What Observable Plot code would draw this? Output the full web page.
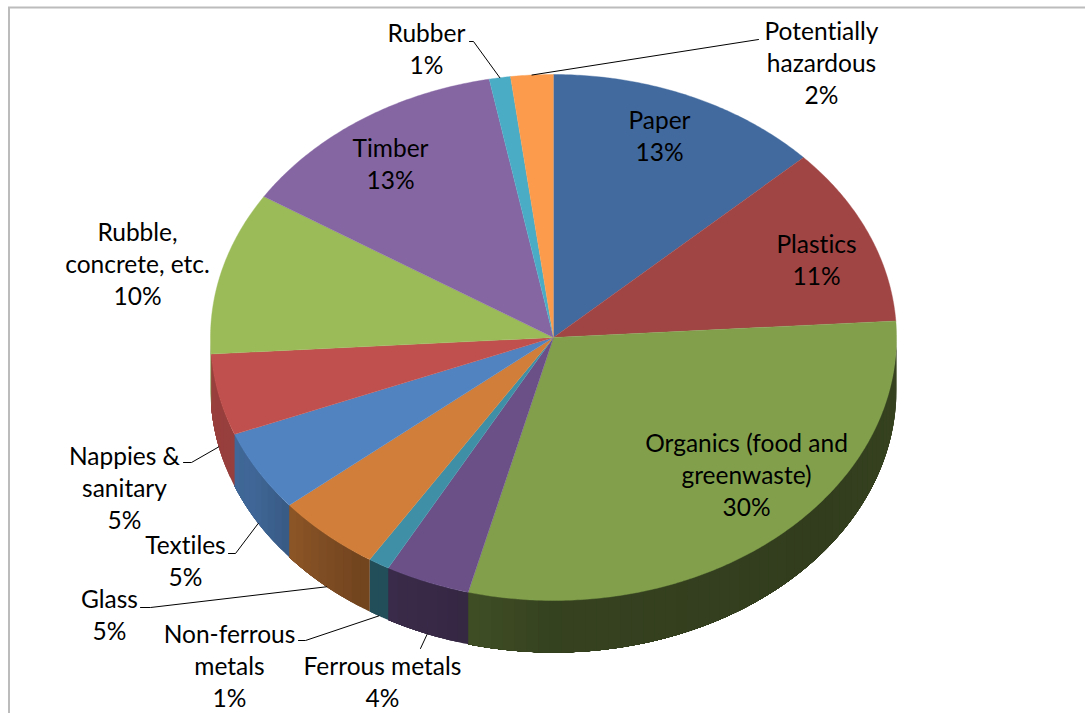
<!DOCTYPE html>
<html>
<head>
<meta charset="utf-8">
<script src="https://cdn.jsdelivr.net/npm/d3@7"></script>
<script src="https://cdn.jsdelivr.net/npm/@observablehq/plot@0.6"></script>
<style>
  html, body { margin: 0; padding: 0; background: #fff; }
  svg { display: block; }
  svg text { font-variant-ligatures: none; }
</style>
</head>
<body>
<div id="chart"></div>
<script>
// Waste composition, clockwise from twelve o'clock.
const materials = ["Paper", "Plastics", "Organics (food and\ngreenwaste)", "Ferrous metals", "Non-ferrous\nmetals", "Glass", "Textiles", "Nappies &\nsanitary", "Rubble,\nconcrete, etc.", "Timber", "Rubber", "Potentially\nhazardous"];
const shares = [13, 11, 30, 4, 1, 5, 5, 5, 10, 13, 1, 2];
const sliceColors = ["#426a9e", "#a04544", "#82a04c", "#6b5088", "#3f90a6", "#d07e39", "#5183c0", "#c0504d", "#9bbb59", "#8566a3", "#4bacc6", "#fb9b4b"];

// Label centres, one per material.
const labelX = [659, 816, 746, 382, 229, 109, 185, 124, 137, 390, 426, 821];
const labelY = [134, 258, 473, 680, 664, 613, 559, 486, 262, 162, 47, 61];

// Leader elbows; slices with inside labels have none.
const leaderElbows = [null, null, null, [[420, 648]], [[298, 640], [305, 640]], [[140, 607], [150, 607]], [[228, 553], [235, 553]], [[183, 462], [191, 462]], null, null, [[469, 41], [473, 41]], [[758, 39]]];

const width = 1085, height = 713;
const cx = 553, cy = 337, rx = 343, ry = 263, depth = 52;

const total = d3.sum(shares);
const cumulative = d3.cumsum(shares);
const slices = materials.map((name, i) => ({
  i, name, share: shares[i], color: sliceColors[i],
  a0: (cumulative[i] - shares[i]) / total * 360,
  a1: cumulative[i] / total * 360
}));

const rad = (a) => a * Math.PI / 180;
const rimX = (a) => cx + rx * Math.sin(rad(a));
const rimY = (a) => cy - ry * Math.cos(rad(a));

// The wall darkens toward the front of the disc and lightens on the left.
const wallShade = d3.scaleLinear()
  .domain([90, 130, 180, 200, 215, 225, 240, 270])
  .range([0.42, 0.38, 0.41, 0.52, 0.55, 0.63, 0.78, 0.8]);

function darken(color, k) {
  const c = d3.rgb(color);
  return d3.rgb(c.r * k, c.g * k, c.b * k).formatHex();
}

// Top face polygons, traced from the disc centre along the arc.
const topFaces = slices.flatMap((s) => {
  const n = Math.max(2, Math.ceil((s.a1 - s.a0) * 2));
  const arc = d3.range(n + 1).map((j) => s.a0 + (s.a1 - s.a0) * j / n);
  return [{x: cx, y: cy, key: s.i, fill: s.color},
    ...arc.map((a) => ({x: rimX(a), y: rimY(a), key: s.i, fill: s.color}))];
});

// Wall strips for the visible half of the rim. Each strip reaches to the end
// of the slice and the next one paints over it, so no seams show between them.
const walls = slices.flatMap((s) => {
  const lo = Math.max(s.a0, 90), hi = Math.min(s.a1, 270);
  if (hi <= lo) return [];
  const n = Math.max(1, Math.ceil((hi - lo) / 2));
  return d3.range(n).flatMap((j) => {
    const a = lo + (hi - lo) * j / n;
    const fill = darken(s.color, wallShade(a + (hi - lo) / n / 2));
    const key = `${s.i}-${j}`;
    const arc = d3.range(0, 41).map((t) => a + (hi - a) * t / 40);
    return [
      ...arc.map((b) => ({x: rimX(b), y: rimY(b), key, fill})),
      ...arc.reverse().map((b) => ({x: rimX(b), y: rimY(b) + depth, key, fill}))
    ];
  });
});

// Leaders run from the label elbow to the outer rim at the slice's mid-angle.
const leaders = slices.flatMap((s) => {
  const elbows = leaderElbows[s.i];
  if (!elbows) return [];
  const mid = (s.a0 + s.a1) / 2;
  const onWall = mid > 90 && mid < 270;
  const end = [rimX(mid), rimY(mid) + (onWall ? depth : 0)];
  return [...elbows, end].map(([x, y]) => ({x, y, key: s.i}));
});

const labels = slices.map((s) => ({
  text: `${s.name}\n${s.share}%`, x: labelX[s.i], y: labelY[s.i]
}));

const chart = Plot.plot({
  width, height,
  margin: 0,
  style: {background: "#fff"},
  x: {domain: [0, width], range: [0, width], axis: null},
  y: {domain: [0, height], range: [0, height], axis: null},
  color: {type: "identity"},
  marks: [
    Plot.ruleX([8.5], {stroke: "#bcbcbc", strokeWidth: 2, y1: 7, y2: height}),
    Plot.ruleY([7], {stroke: "#bcbcbc", strokeWidth: 2, x1: 8, x2: width}),
    Plot.line(walls, {x: "x", y: "y", z: "key", fill: "fill"}),
    Plot.line(topFaces, {x: "x", y: "y", z: "key", fill: "fill", stroke: "fill", strokeWidth: 0.4}),
    Plot.line(leaders, {x: "x", y: "y", z: "key", stroke: "#000", strokeWidth: 1}),
    Plot.text(labels, {
      x: "x", y: "y", text: "text",
      fill: "#000",
      fontFamily: "Lato, 'Noto Sans', sans-serif",
      fontSize: 24.5,
      lineHeight: 1.32,
      textAnchor: "middle",
      lineAnchor: "middle"
    })
  ]
});
document.getElementById("chart").append(chart);
</script>
</body>
</html>
